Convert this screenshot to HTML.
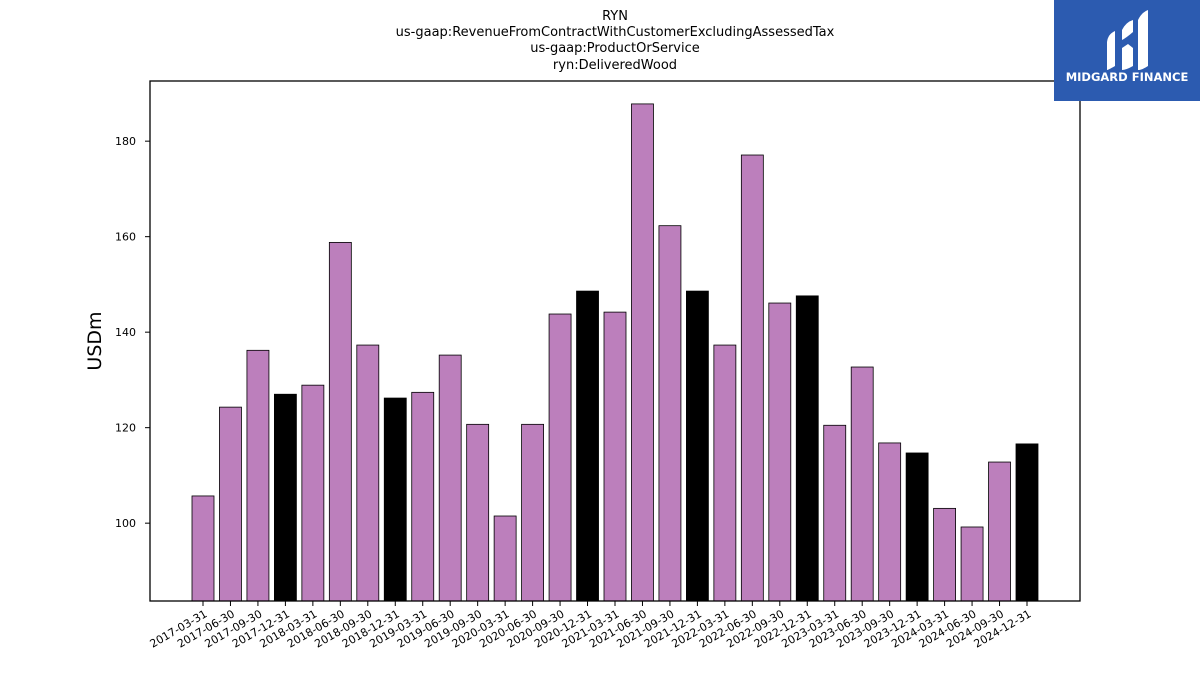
<!DOCTYPE html>
<html><head><meta charset="utf-8"><style>
body{margin:0;background:#fff;width:1200px;height:675px;overflow:hidden;font-family:"DejaVu Sans","Liberation Sans",sans-serif}
</style></head><body>
<svg width="1200" height="675" xmlns="http://www.w3.org/2000/svg">
<g id="titles" font-size="13" text-anchor="middle" fill="#000">
<text x="615" y="20">RYN</text>
<text x="615" y="36">us-gaap:RevenueFromContractWithCustomerExcludingAssessedTax</text>
<text x="615" y="52">us-gaap:ProductOrService</text>
<text x="615" y="69">ryn:DeliveredWood</text>
</g>
<g id="bars"></g>
<rect x="150" y="81" width="930" height="520" fill="none" stroke="#000" stroke-width="1.3"/>
<g id="yaxis"></g>
<g id="xaxis"></g>
<text x="101" y="341" font-size="19" text-anchor="middle" transform="rotate(-90 101 341)">USDm</text>
<g>
<rect x="1054" y="0" width="146" height="101" fill="#2c5bb0"/>
<path d="M1107 42 Q1108 34 1115 31 L1115 66 Q1108 70 1107 70 Z" fill="#fff"/>
<path d="M1122 30 Q1126 22 1133 20 L1133 32 Q1126 38 1122 40 Z" fill="#fff"/>
<path d="M1122 48 L1128 44 L1133 48 L1133 66 Q1126 70 1122 70 Z" fill="#fff"/>
<path d="M1138 20 Q1142 12 1148 10 L1148 66 Q1142 70 1138 70 Z" fill="#fff"/>
<text x="1127" y="81" font-size="11.5" font-weight="bold" fill="#fff" text-anchor="middle">MIDGARD FINANCE</text>
</g>
</svg>
<script>
const categories=["2017-03-31","2017-06-30","2017-09-30","2017-12-31","2018-03-31","2018-06-30","2018-09-30","2018-12-31","2019-03-31","2019-06-30","2019-09-30","2020-03-31","2020-06-30","2020-09-30","2020-12-31","2021-03-31","2021-06-30","2021-09-30","2021-12-31","2022-03-31","2022-06-30","2022-09-30","2022-12-31","2023-03-31","2023-06-30","2023-09-30","2023-12-31","2024-03-31","2024-06-30","2024-09-30","2024-12-31"];
const values=[105.7,124.3,136.2,127.0,128.9,158.8,137.3,126.2,127.4,135.2,120.7,101.5,120.7,143.8,148.6,144.2,187.8,162.3,148.6,137.3,177.1,146.1,147.6,120.5,132.7,116.8,114.7,103.1,99.2,112.8,116.6];
const yTicks=[100,120,140,160,180];
const NS="http://www.w3.org/2000/svg";
const yMin=83.7,yMax=192.6,plotTop=81,plotBot=601;
function yScale(v){return plotBot-(v-yMin)/(yMax-yMin)*(plotBot-plotTop);}
const xFirst=203,xLast=1027;
function xScale(i){return xFirst+i*(xLast-xFirst)/(categories.length-1);}
const bw=22;
const bars=document.getElementById('bars');
values.forEach((v,i)=>{
 const r=document.createElementNS(NS,'rect');
 
 
 const y=yScale(v);
 r.setAttribute('x',xScale(i)-bw/2);r.setAttribute('y',y);
 r.setAttribute('width',bw);r.setAttribute('height',plotBot-y);
 r.setAttribute('fill',categories[i].endsWith('12-31')?'#000':'#bc7fbc');
 r.setAttribute('stroke','#000');r.setAttribute('stroke-width','0.8');
 bars.appendChild(r);
});
const ya=document.getElementById('yaxis');
yTicks.forEach(t=>{
 const y=yScale(t);
 const l=document.createElementNS(NS,'line');
 
 
 l.setAttribute('x1',145);l.setAttribute('x2',150);l.setAttribute('y1',y);l.setAttribute('y2',y);l.setAttribute('stroke','#000');
 ya.appendChild(l);
 const tx=document.createElementNS(NS,'text');
 
 
 tx.setAttribute('x',136);tx.setAttribute('y',y+4);tx.setAttribute('font-size','11');tx.setAttribute('text-anchor','end');
 tx.textContent=t;ya.appendChild(tx);
});
const xa=document.getElementById('xaxis');
categories.forEach((c,i)=>{
 const x=xScale(i);
 const l=document.createElementNS(NS,'line');
 
 
 l.setAttribute('x1',x);l.setAttribute('x2',x);l.setAttribute('y1',601);l.setAttribute('y2',606);l.setAttribute('stroke','#000');
 xa.appendChild(l);
 const tx=document.createElementNS(NS,'text');
 
 
 tx.setAttribute('x',x+5);tx.setAttribute('y',616);tx.setAttribute('font-size','11');tx.setAttribute('text-anchor','end');
 tx.setAttribute('transform','rotate(-30 '+(x+5)+' 616)');
 tx.textContent=c;xa.appendChild(tx);
});
</script>
</body></html>
